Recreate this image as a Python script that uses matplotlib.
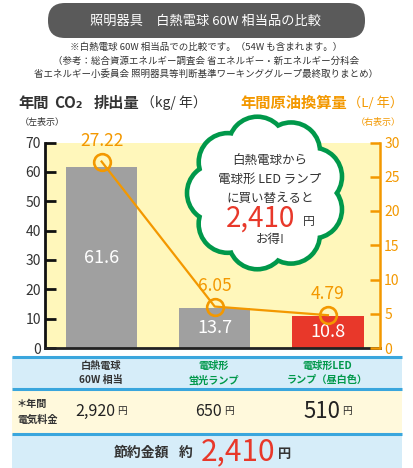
import matplotlib
matplotlib.use("Agg")
import matplotlib.pyplot as plt
import numpy as np
from matplotlib.patches import FancyBboxPatch, Circle, Ellipse, Rectangle

plt.rcParams['font.family'] = ['Noto Sans CJK JP', 'DejaVu Sans']

# ---- data ----
categories = ["白熱電球 60W 相当", "電球形蛍光ランプ", "電球形LEDランプ（昼白色）"]
co2_values = [61.6, 13.7, 10.8]
oil_values = [27.22, 6.05, 4.79]
co2_labels = ["61.6", "13.7", "10.8"]
oil_labels = ["27.22", "6.05", "4.79"]
left_ticks = [0, 10, 20, 30, 40, 50, 60, 70]
right_ticks = [0, 5, 10, 15, 20, 25, 30]
header_lines = [["白熱電球", "60W 相当"], ["電球形", "蛍光ランプ"], ["電球形LED", "ランプ（昼白色）"]]
cost_numbers = ["2,920", "650", "510"]
saving = "2,410"

ORANGE = "#f39800"
GRAY_BAR = "#a0a0a0"
RED = "#e8382a"
YELLOW = "#fff7bb"
GREEN = "#00984a"
DARK = "#333333"
BLUE_LINE = "#3aa6dd"
LIGHT_BLUE = "#d6edf9"
LIGHT_YEL = "#fff9dc"

W, H = 414, 468
fig = plt.figure(figsize=(W / 100, H / 100), dpi=100)

# ---- main chart ----
ax = fig.add_axes([45 / W, 1 - 348 / H, (380 - 45) / W, (348 - 142.5) / H])
ax.set_facecolor(YELLOW)
x = np.arange(len(categories))
bar_colors = [GRAY_BAR, GRAY_BAR, RED]
ax.bar(x, co2_values, width=0.63, color=bar_colors, zorder=2)
for xi, v, lab in zip(x, co2_values, co2_labels):
    ax.text(xi, v / 2, lab, ha='center', va='center', color='white', fontsize=13, zorder=3)
ax.set_xlim(-0.5, 2.46)
ax.set_ylim(0, 70)
ax.set_yticks(left_ticks)
ax.set_xticks([])
for s in ['top', 'right']:
    ax.spines[s].set_visible(False)
ax.spines['left'].set_linewidth(2.0)
ax.spines['bottom'].set_linewidth(2.0)
ax.spines['left'].set_color('#111111')
ax.spines['bottom'].set_color('#222222')
ax.tick_params(axis='y', direction='in', length=8, width=2, color='#111111',
               labelsize=10, labelcolor=DARK, pad=3)

ax2 = ax.twinx()
ax2.set_ylim(0, 30)
ax2.set_yticks(right_ticks)
ax2.plot(x, oil_values, color=ORANGE, lw=1.6, marker='o', markersize=12,
         markerfacecolor='none', markeredgewidth=1.9, zorder=4)
for xi, v, lab in zip(x, oil_values, oil_labels):
    ax2.annotate(lab, (xi, v), xytext=(0, 15), textcoords='offset points',
                 ha='center', va='center', color=ORANGE, fontsize=12.5)
for s in ['top', 'left', 'bottom']:
    ax2.spines[s].set_visible(False)
ax2.spines['right'].set_color(ORANGE)
ax2.spines['right'].set_linewidth(1.8)
ax2.tick_params(axis='y', direction='in', length=7, width=1.8, color=ORANGE,
                labelsize=10, labelcolor=ORANGE, pad=3)

# ---- overlay in pixel coordinates ----
ov = fig.add_axes([0, 0, 1, 1], zorder=10)
ov.set_xlim(0, W)
ov.set_ylim(H, 0)
ov.axis('off')
ov.patch.set_alpha(0)

# title pill
ov.add_patch(FancyBboxPatch((48, 3), 317, 35, boxstyle="round,pad=0,rounding_size=17",
                            fc="#5a5a5a", ec='none'))
ov.text(206, 21, "照明器具　白熱電球 60W 相当品の比較", ha='center', va='center',
        color='white', fontsize=9.5)

# notes
ov.text(206, 47, "※白熱電球 60W 相当品での比較です。（54W も含まれます。）", ha='center',
        va='center', fontsize=6.8, color=DARK)
ov.text(206, 61, "（参考：総合資源エネルギー調査会 省エネルギー・新エネルギー分科会", ha='center',
        va='center', fontsize=6.8, color=DARK)
ov.text(206, 74, "省エネルギー小委員会 照明器具等判断基準ワーキンググループ最終取りまとめ）", ha='center',
        va='center', fontsize=6.8, color=DARK)

# axis titles
ov.text(18, 103, "年間", ha='left', va='center', fontsize=11, fontweight='bold', color=DARK)
ov.text(54, 103, "CO₂", ha='left', va='center', fontsize=11, fontweight='bold', color=DARK)
ov.text(94, 103, "排出量", ha='left', va='center', fontsize=11, fontweight='bold', color=DARK)
ov.text(141, 103, "（kg/ 年）", ha='left', va='center', fontsize=10, color=DARK)
ov.text(20, 122, "（左表示）", ha='left', va='center', fontsize=6.5, color=DARK)
ov.text(347, 103, "年間原油換算量", ha='right', va='center', fontsize=11, fontweight='bold', color=ORANGE)
ov.text(348, 103, "（L/ 年）", ha='left', va='center', fontsize=9.5, color=ORANGE)
ov.text(401, 122, "（右表示）", ha='right', va='center', fontsize=6.5, color=ORANGE)

# cloud
cx, cy = 266, 193
n = 9
angles = np.linspace(0, 2 * np.pi, n, endpoint=False) + 0.35
bumps = [(cx + 50 * np.cos(a), cy + 48 * np.sin(a)) for a in angles]
r = 29
for (bx, by) in bumps:
    ov.add_patch(Circle((bx, by), r + 2.3, fc=GREEN, ec='none', zorder=1))
ov.add_patch(Ellipse((cx, cy), 116, 110, fc=GREEN, ec='none', zorder=1))
for (bx, by) in bumps:
    ov.add_patch(Circle((bx, by), r - 2.3, fc='white', ec='none', zorder=2))
ov.add_patch(Ellipse((cx, cy), 116, 110, fc='white', ec='none', zorder=2))
ov.text(270, 160, "白熱電球から", ha='center', va='center', fontsize=9, color=DARK, zorder=3)
ov.text(270, 179, "電球形 LED ランプ", ha='center', va='center', fontsize=9, color=DARK, zorder=3)
ov.text(270, 198, "に買い替えると", ha='center', va='center', fontsize=9, color=DARK, zorder=3)
ov.text(261, 219, saving, ha='center', va='center', fontsize=20, color=RED, zorder=3)
ov.text(309, 221, "円", ha='center', va='center', fontsize=8.5, color=DARK, zorder=3)
ov.text(270, 240, "お得!", ha='center', va='center', fontsize=9, color=DARK, zorder=3)

# table
ov.add_patch(Rectangle((12, 357), 390, 31, fc=LIGHT_BLUE, ec='none'))
ov.add_patch(Rectangle((12, 388), 390, 46, fc=LIGHT_YEL, ec='none'))
ov.add_patch(Rectangle((12, 434), 390, 34, fc=LIGHT_BLUE, ec='none'))
for yl in [356.5, 388.5, 434]:
    ov.plot([12, 402], [yl, yl], color=BLUE_LINE, lw=2.2, solid_capstyle='butt')

col_x = [101, 214, 327]
head_colors = [DARK, GREEN, GREEN]
for cxp, lines, hc in zip(col_x, header_lines, head_colors):
    ov.text(cxp, 366, lines[0], ha='center', va='center', fontsize=7.3, color=hc, fontweight='bold')
    ov.text(cxp, 380, lines[1], ha='center', va='center', fontsize=7.3, color=hc, fontweight='bold')

ov.text(17, 404, "＊年間", ha='left', va='center', fontsize=7.3, color=DARK, fontweight='bold')
ov.text(17, 420, "電気料金", ha='left', va='center', fontsize=7.3, color=DARK, fontweight='bold')
cost_sizes = [11.5, 11.5, 16]
num_right = [115, 222, 340]
for nr, num, fs in zip(num_right, cost_numbers, cost_sizes):
    ov.text(nr, 411, num, ha='right', va='center', fontsize=fs, color='#222222')
    ov.text(nr + 2, 411, "円", ha='left', va='center', fontsize=7, color='#222222')

ov.text(141, 453, "節約金額", ha='center', va='center', fontsize=10, color=DARK, fontweight='bold')
ov.text(186, 453, "約", ha='center', va='center', fontsize=10, color=DARK, fontweight='bold')
ov.text(238, 452, saving, ha='center', va='center', fontsize=21.5, color=RED)
ov.text(285, 454, "円", ha='center', va='center', fontsize=9.5, color=DARK, fontweight='bold')

fig.savefig("out.png", dpi=100)
